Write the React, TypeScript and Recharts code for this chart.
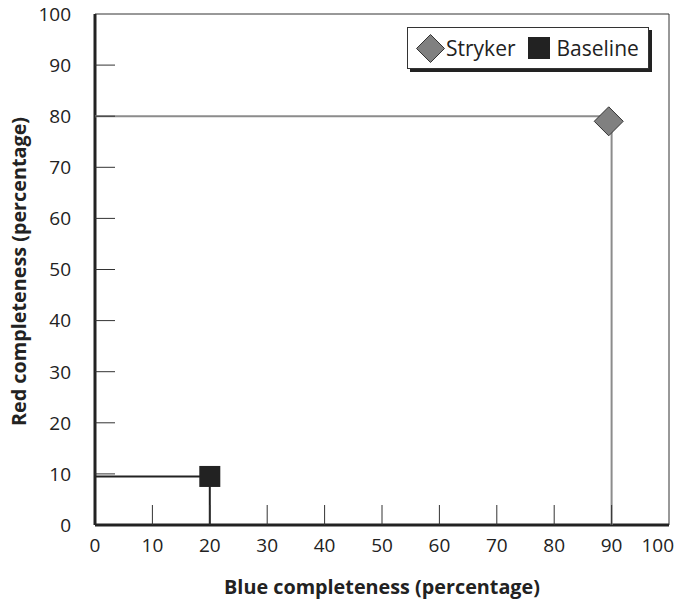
import {
  Label,
  Legend,
  ReferenceLine,
  Scatter,
  ScatterChart,
  XAxis,
  YAxis,
} from "recharts";

const axisTicks = [0, 10, 20, 30, 40, 50, 60, 70, 80, 90, 100];

const strykerPoint = [{ x: 89.5, y: 79 }];
const strykerGuide = [
  { x: 0, y: 80 },
  { x: 90, y: 80 },
  { x: 90, y: 0 },
];

const baselinePoint = [{ x: 20, y: 9.5 }];
const baselineGuide = [
  { x: 0, y: 9.5 },
  { x: 20, y: 9.5 },
  { x: 20, y: 0 },
];

const legendItems = [
  { name: "Stryker", marker: "diamond" },
  { name: "Baseline", marker: "square" },
];

const FONT = "'Open Sans', sans-serif";
const INK = "#222";
const GREY = "#808080";
const GUIDE_GREY = "#8c8c8c";

const Y_TICK_MARGIN = 24;
const X_TICK_MARGIN = 14;
const TICK_LEN = 20;
const TICK_FONT = 19;
const TITLE_FONT = 19.8;

function YTick(props: any) {
  const { x, y, payload } = props;
  const axisX = x + Y_TICK_MARGIN;
  const v = payload.value;
  return (
    <g>
      {v > 0 && v < 100 && (
        <line x1={axisX} y1={y} x2={axisX + TICK_LEN} y2={y} stroke="#333" strokeWidth={1} />
      )}
      <text x={x} y={y} dy="0.36em" textAnchor="end" fontSize={TICK_FONT} fontFamily={FONT} fill={INK}>
        {v}
      </text>
    </g>
  );
}

function XTick(props: any) {
  const { x, y, payload } = props;
  const axisY = y - X_TICK_MARGIN;
  const v = payload.value;
  const last = v === 100;
  return (
    <g>
      {v > 0 && v < 100 && (
        <line x1={x} y1={axisY} x2={x} y2={axisY - TICK_LEN} stroke="#333" strokeWidth={1} />
      )}
      <text
        x={last ? x + 5 : x}
        y={y}
        dy="0.71em"
        textAnchor={last ? "end" : "middle"}
        fontSize={TICK_FONT}
        fontFamily={FONT}
        fill={INK}
      >
        {v}
      </text>
    </g>
  );
}

function Diamond(props: any) {
  const { cx, cy } = props;
  const r = 14.5;
  return (
    <polygon
      points={`${cx},${cy - r} ${cx + r},${cy} ${cx},${cy + r} ${cx - r},${cy}`}
      fill={GREY}
      stroke="#333"
      strokeWidth={1}
    />
  );
}

function Square(props: any) {
  const { cx, cy } = props;
  const s = 21;
  return <rect x={cx - s / 2} y={cy - s / 2} width={s} height={s} fill={INK} />;
}

function NoMarker() {
  return <g />;
}

function LegendBox() {
  return (
    <div
      style={{
        display: "flex",
        alignItems: "center",
        height: 42,
        boxSizing: "border-box",
        padding: "0 8px",
        border: "1px solid #333",
        boxShadow: "3px 3px 0 #222",
        background: "#fff",
        fontFamily: FONT,
        fontSize: 21,
        color: INK,
        whiteSpace: "nowrap",
      }}
    >
      {legendItems.map((item, i) => (
        <div
          key={item.name}
          style={{ display: "flex", alignItems: "center", marginLeft: i === 0 ? 0 : 12 }}
        >
          {item.marker === "diamond" ? (
            <svg width={29} height={29} style={{ marginRight: 1 }}>
              <polygon points="14.5,0.5 28.5,14.5 14.5,28.5 0.5,14.5" fill={GREY} stroke="#333" />
            </svg>
          ) : (
            <svg width={22} height={22} style={{ marginRight: 7 }}>
              <rect x={0} y={0} width={22} height={22} fill={INK} />
            </svg>
          )}
          <span>{item.name}</span>
        </div>
      ))}
    </div>
  );
}

export default function App() {
  return (
    <div style={{ margin: "-8px 0 0 -8px", width: 683, height: 602 }}>
      <ScatterChart
        width={683}
        height={602}
        margin={{ top: 14, right: 14, left: 0, bottom: 0 }}
        style={{ fontFamily: FONT }}
      >
        <XAxis
          type="number"
          dataKey="x"
          domain={[0, 100]}
          ticks={axisTicks}
          interval={0}
          height={77}
          tickSize={0}
          tickMargin={X_TICK_MARGIN}
          tick={<XTick />}
          axisLine={{ stroke: INK, strokeWidth: 3 }}
        >
          <Label
            content={({ viewBox }: any) => (
              <text
                x={viewBox.x + viewBox.width / 2}
                y={viewBox.y + 62}
                dy="0.36em"
                textAnchor="middle"
                fontSize={TITLE_FONT}
                fontWeight="bold"
                fontFamily={FONT}
                fill={INK}
              >
                Blue completeness (percentage)
              </text>
            )}
          />
        </XAxis>
        <YAxis
          type="number"
          dataKey="y"
          domain={[0, 100]}
          ticks={axisTicks}
          interval={0}
          width={95}
          tickSize={0}
          tickMargin={Y_TICK_MARGIN}
          tick={<YTick />}
          axisLine={{ stroke: INK, strokeWidth: 3 }}
        >
          <Label
            content={({ viewBox }: any) => {
              const cx = viewBox.x + 19;
              const cy = viewBox.y + viewBox.height / 2 + 2;
              return (
                <text
                  x={cx}
                  y={cy}
                  dy="0.36em"
                  textAnchor="middle"
                  fontSize={TITLE_FONT}
                  fontWeight="bold"
                  fontFamily={FONT}
                  fill={INK}
                  transform={`rotate(-90 ${cx} ${cy})`}
                >
                  Red completeness (percentage)
                </text>
              );
            }}
          />
        </YAxis>
        <ReferenceLine y={100} stroke="#333" strokeWidth={1} />
        <ReferenceLine x={100} stroke="#333" strokeWidth={1} />
        <Scatter
          data={strykerGuide}
          line={{ stroke: GUIDE_GREY, strokeWidth: 2 }}
          shape={<NoMarker />}
          legendType="none"
          isAnimationActive={false}
        />
        <Scatter
          data={baselineGuide}
          line={{ stroke: INK, strokeWidth: 2 }}
          shape={<NoMarker />}
          legendType="none"
          isAnimationActive={false}
        />
        <Scatter name="Stryker" data={strykerPoint} shape={<Diamond />} isAnimationActive={false} />
        <Scatter name="Baseline" data={baselinePoint} shape={<Square />} isAnimationActive={false} />
        <Legend
          layout="vertical"
          align="center"
          verticalAlign="middle"
          content={<LegendBox />}
          wrapperStyle={{ top: 27, left: 407, width: 242, height: 42 }}
        />
      </ScatterChart>
    </div>
  );
}
